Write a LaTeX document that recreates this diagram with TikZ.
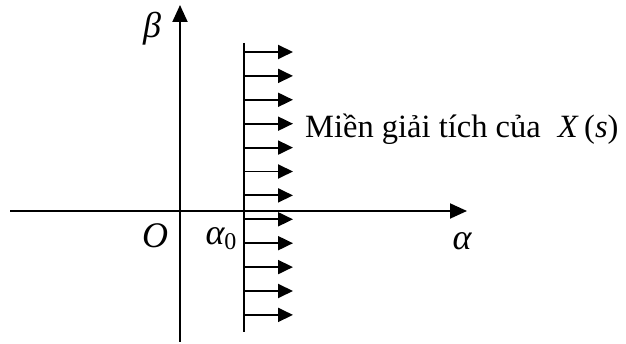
\documentclass[tikz,border=0pt]{standalone}
\usepackage{fontspec}
\setmainfont{Liberation Serif}
\usetikzlibrary{arrows.meta, positioning}
\tikzset{
  axisline/.style={line width=1.9pt, -{Triangle[length=17pt,width=15pt]}},
  fluxarrow/.style={line width=1.9pt, -{Triangle[length=15pt,width=14pt]}},
  bound/.style={line width=1.9pt},
  greek/.style={font=\fontsize{36}{40}\selectfont\itshape, inner sep=0pt},
  caption/.style={font=\fontsize{32.5}{36}\selectfont, inner sep=0pt, anchor=base west}
}
\begin{document}
\begin{tikzpicture}[x=1pt, y=1pt]
    \useasboundingbox (0,0) rectangle (626,344);
    % axes
    \coordinate (xstart) at (10,133);
    \coordinate (xend) at (467,133);
    \coordinate (ystart) at (180,2);
    \coordinate (yend) at (180,339);
    \draw[axisline] (xstart) -- (xend);
    \draw[axisline] (ystart) -- (yend);
    % boundary of the region
    \coordinate (btop) at (244,301);
    \coordinate (bbot) at (244,12);
    \draw[bound] (btop) -- (bbot);
    \foreach \i in {0,...,11} {
      \coordinate (f\i) at (244,{292-\i*23.9});
      \coordinate (g\i) at (293,{292-\i*23.9});
      \draw[fluxarrow] (f\i) -- (g\i);
    }
    % labels
    \node[greek] (beta) at (152,315) {β};
    \node[greek] (origin) at (155,108) {O};
    \node[greek] (alpha0) at (221,105) {α\raisebox{-0.3ex}{\upshape\fontsize{24}{26}\selectfont 0}};
    \node[greek] (alpha) at (462,103) {α};
    \node[caption] (region) at (305,206) {Miền giải tích của \;\textit{X}\,(\textit{s})};
\end{tikzpicture}
\end{document}
